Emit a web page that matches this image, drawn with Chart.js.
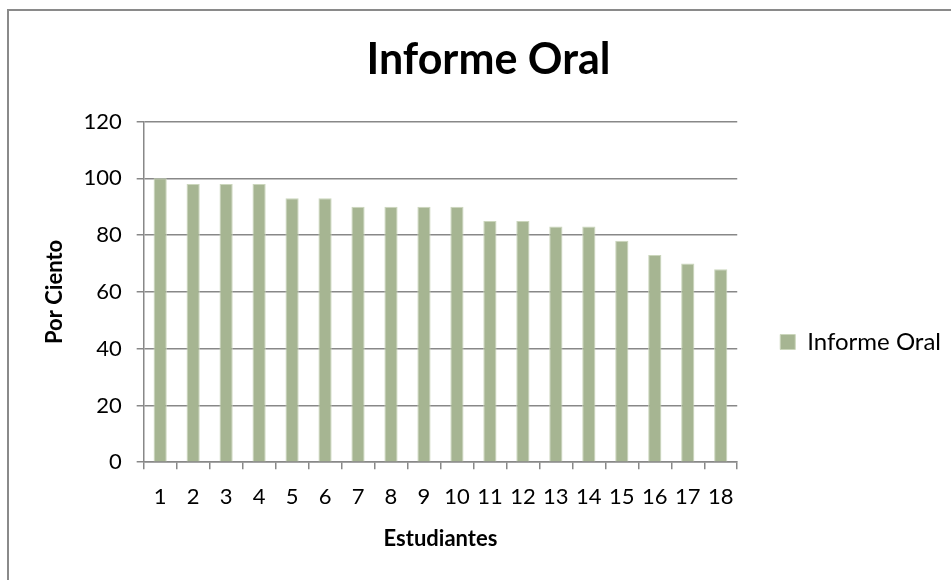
<!DOCTYPE html>
<html>
<head>
<meta charset="utf-8">
<script src="https://cdn.jsdelivr.net/npm/chart.js@4"></script>
<style>
  html, body { margin: 0; padding: 0; background: #ffffff; }
  #wrap { position: relative; width: 951px; height: 580px; }
</style>
</head>
<body>
<div id="wrap"><canvas id="chart" width="951" height="580"></canvas></div>
<script>
// Student scores for the oral report, in percent
const students = ['1','2','3','4','5','6','7','8','9','10','11','12','13','14','15','16','17','18'];
const scores = [100, 98, 98, 98, 93, 93, 90, 90, 90, 90, 85, 85, 83, 83, 78, 73, 70, 68];
const seriesName = 'Informe Oral';
const chartTitle = 'Informe Oral';
const yAxisTitle = 'Por Ciento';
const xAxisTitle = 'Estudiantes';

const FONT = 'Lato, "Open Sans", sans-serif';
const GRID = '#888888';

// Outer frame of the chart object (left and top edges)
const framePlugin = {
  id: 'frame',
  beforeDraw(chart) {
    const ctx = chart.ctx;
    ctx.save();
    ctx.fillStyle = '#ffffff';
    ctx.fillRect(0, 0, chart.width, chart.height);
    ctx.strokeStyle = '#8a8a8a';
    ctx.lineWidth = 2;
    ctx.beginPath();
    ctx.moveTo(8, chart.height);
    ctx.lineTo(8, 10);
    ctx.lineTo(chart.width, 10);
    ctx.stroke();
    ctx.restore();
  }
};

new Chart(document.getElementById('chart'), {
  type: 'bar',
  data: {
    labels: students,
    datasets: [{
      label: seriesName,
      data: scores,
      backgroundColor: '#A6B592',
      borderColor: '#CBD6BC',
      borderWidth: 1,
      categoryPercentage: 1.0,
      barPercentage: 0.4
    }]
  },
  options: {
    responsive: false,
    animation: false,
    layout: { padding: { left: 26, right: 0, top: 20, bottom: 24 } },
    plugins: {
      title: {
        display: true,
        text: chartTitle,
        color: '#000000',
        font: { family: FONT, size: 43, weight: 'bold' },
        padding: { top: 14, bottom: 36 }
      },
      legend: {
        position: 'right',
        title: {
          display: true,
          text: ' ',
          font: { family: FONT, size: 10 },
          padding: { top: 48, bottom: 48 }
        },
        labels: {
          color: '#000000',
          font: { family: FONT, size: 24 },
          boxWidth: 15,
          boxHeight: 15,
          padding: 43
        }
      },
      tooltip: { enabled: false }
    },
    scales: {
      x: {
        offset: true,
        grid: {
          offset: true,
          drawOnChartArea: false,
          drawTicks: true,
          tickLength: 7,
          color: GRID,
          lineWidth: 1.5
        },
        border: { color: GRID, width: 1.5 },
        ticks: {
          color: '#000000',
          font: { family: FONT, size: 22 },
          padding: 15,
          maxRotation: 0,
          autoSkip: false
        },
        title: {
          display: true,
          text: xAxisTitle,
          color: '#000000',
          font: { family: FONT, size: 22, weight: 'bold' },
          padding: { top: 0, bottom: 4 }
        }
      },
      y: {
        min: 0,
        max: 120,
        ticks: {
          stepSize: 20,
          color: '#000000',
          font: { family: FONT, size: 22 },
          padding: 15
        },
        grid: {
          color: GRID,
          lineWidth: 1.5,
          tickLength: 7
        },
        border: { color: GRID, width: 1.5 },
        title: {
          display: true,
          text: yAxisTitle,
          color: '#000000',
          font: { family: FONT, size: 22, weight: 'bold' },
          padding: { top: 16, bottom: 0 }
        }
      }
    }
  },
  plugins: [framePlugin]
});
</script>
</body>
</html>
